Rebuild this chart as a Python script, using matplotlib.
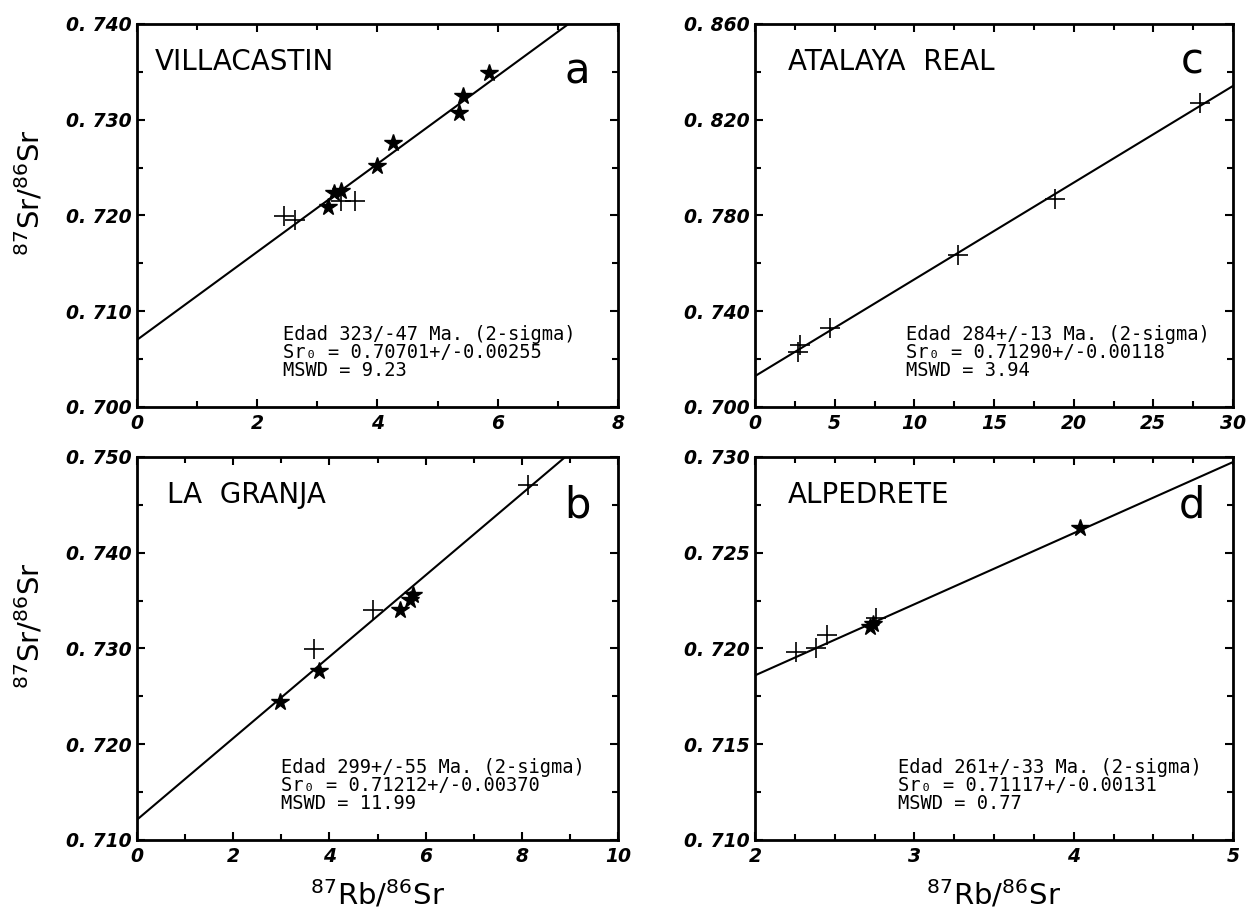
import numpy as np
import matplotlib.pyplot as plt
from matplotlib.ticker import MultipleLocator, FixedLocator, FixedFormatter

LAMBDA_RB = 1.42e-11  # 87Rb decay constant, 1/yr

# --- panel a: Villacastin ---
a_star_x = [3.17, 3.27, 3.40, 3.99, 4.25, 5.35, 5.42, 5.86]
a_star_y = [0.7209, 0.7223, 0.7226, 0.7252, 0.7276, 0.7307, 0.7325, 0.7349]
a_cross_x = [2.45, 2.63, 3.40, 3.62]
a_cross_y = [0.7199, 0.7195, 0.7215, 0.7215]

# --- panel b: La Granja ---
b_star_x = [2.97, 3.79, 5.47, 5.68, 5.74]
b_star_y = [0.7244, 0.7277, 0.7340, 0.7351, 0.7356]
b_cross_x = [3.69, 4.91, 8.12]
b_cross_y = [0.7299, 0.7340, 0.7471]

# --- panel c: Atalaya Real ---
c_star_x = []
c_star_y = []
c_cross_x = [2.72, 2.82, 4.71, 12.74, 18.83, 27.93]
c_cross_y = [0.7228, 0.7258, 0.7329, 0.7633, 0.7871, 0.8272]

# --- panel d: Alpedrete ---
d_star_x = [2.72, 2.74, 4.04]
d_star_y = [0.7211, 0.7213, 0.7263]
d_cross_x = [2.26, 2.38, 2.45, 2.76]
d_cross_y = [0.7198, 0.7200, 0.7207, 0.7216]

names = ["VILLACASTIN", "LA  GRANJA", "ATALAYA  REAL", "ALPEDRETE"]
letters = ["a", "b", "c", "d"]
ages = [323, 299, 284, 261]                 # Ma
age_labels = ["323/-47", "299+/-55", "284+/-13", "261+/-33"]
sr0 = [0.70701, 0.71212, 0.71290, 0.71117]
sr0_labels = ["0.70701+/-0.00255", "0.71212+/-0.00370",
              "0.71290+/-0.00118", "0.71117+/-0.00131"]
mswd_labels = ["9.23", "11.99", "3.94", "0.77"]

xlims = [(0, 8), (0, 10), (0, 30), (2, 5)]
ylims = [(0.700, 0.740), (0.710, 0.750), (0.700, 0.860), (0.710, 0.730)]
x_major = [2, 2, 5, 1]
x_minor = [1, 1, 2.5, 0.25]
y_major = [0.010, 0.010, 0.040, 0.005]
y_minor = [0.005, 0.005, 0.020, 0.0025]

stars = [(a_star_x, a_star_y), (b_star_x, b_star_y), (c_star_x, c_star_y), (d_star_x, d_star_y)]
crosses = [(a_cross_x, a_cross_y), (b_cross_x, b_cross_y), (c_cross_x, c_cross_y), (d_cross_x, d_cross_y)]

# axes rectangles in pixels (left, top, right, bottom): a, b, c, d
W, H = 1250, 916
boxes = [(137, 24, 618, 407), (137, 457, 618, 840),
         (755, 24, 1233, 407), (755, 457, 1233, 840)]
title_x = [0.037, 0.062, 0.068, 0.068]
letter_y = [0.845, 0.842, 0.87, 0.842]
stats_x = [0.304, 0.30, 0.316, 0.30]

tick_font = dict(family="DejaVu Sans", weight="bold", style="italic", size=13.5)


def draw_panel(ax, i):
    x0, x1 = xlims[i]
    slope = np.exp(LAMBDA_RB * ages[i] * 1e6) - 1
    xx = np.array([x0, x1])
    ax.plot(xx, sr0[i] + slope * xx, color="black", lw=1.5, zorder=2)

    sx, sy = stars[i]
    if len(sx):
        ax.plot(sx, sy, linestyle="none", marker="*", ms=13, color="black", zorder=3)
    cx, cy = crosses[i]
    ax.plot(cx, cy, linestyle="none", marker="+", ms=14, mew=1.2, color="black", zorder=3)

    ax.set_xlim(xlims[i])
    ax.set_ylim(ylims[i])

    # ticks
    xt = np.arange(x0, x1 + 1e-9, x_major[i])
    ax.xaxis.set_major_locator(FixedLocator(xt))
    ax.xaxis.set_major_formatter(FixedFormatter([f"{v:g}" for v in xt]))
    ax.xaxis.set_minor_locator(MultipleLocator(x_minor[i]))
    y0, y1 = ylims[i]
    yt = np.arange(y0, y1 + 1e-9, y_major[i])
    ax.yaxis.set_major_locator(FixedLocator(yt))
    ax.yaxis.set_major_formatter(FixedFormatter([f"{v:.3f}".replace(".", ". ") for v in yt]))
    ax.yaxis.set_minor_locator(MultipleLocator(y_minor[i]))

    ax.tick_params(which="both", direction="in", top=True, right=True, width=1.5)
    ax.tick_params(which="major", length=6)
    ax.tick_params(which="minor", length=4)
    ax.tick_params(axis="x", which="major", pad=5)
    ax.tick_params(axis="y", which="major", pad=4)
    for lab in ax.get_xticklabels() + ax.get_yticklabels():
        lab.set_fontproperties(tick_font)
    for sp in ax.spines.values():
        sp.set_linewidth(2.0)

    ax.text(title_x[i], 0.88, names[i], transform=ax.transAxes,
            fontsize=20, va="baseline", ha="left")
    ax.text(0.915, letter_y[i], letters[i], transform=ax.transAxes,
            fontsize=30, va="baseline", ha="center")
    stats = (f"Edad {age_labels[i]} Ma. (2-sigma)\n"
             f"Sr\u2080 = {sr0_labels[i]}\n"
             f"MSWD = {mswd_labels[i]}")
    ax.text(stats_x[i], 0.07, stats, transform=ax.transAxes, family="DejaVu Sans Mono",
            fontsize=13.5, va="bottom", ha="left", linespacing=0.95)


fig = plt.figure(figsize=(W / 100, H / 100), dpi=100)
axes = []
for i, (l, t, r, b) in enumerate(boxes):
    ax = fig.add_axes([l / W, 1 - b / H, (r - l) / W, (b - t) / H])
    draw_panel(ax, i)
    axes.append(ax)

ylab = r"$^{87}$Sr/$^{86}$Sr"
xlab = r"$^{87}$Rb/$^{86}$Sr"
for ax in (axes[0], axes[1]):
    ax.set_ylabel(ylab, fontsize=21)
    ax.yaxis.set_label_coords(-0.19, 0.56)
for ax in (axes[1], axes[3]):
    ax.set_xlabel(xlab, fontsize=21)
    ax.xaxis.set_label_coords(0.5, -0.1)

fig.savefig("out.png", dpi=100)
